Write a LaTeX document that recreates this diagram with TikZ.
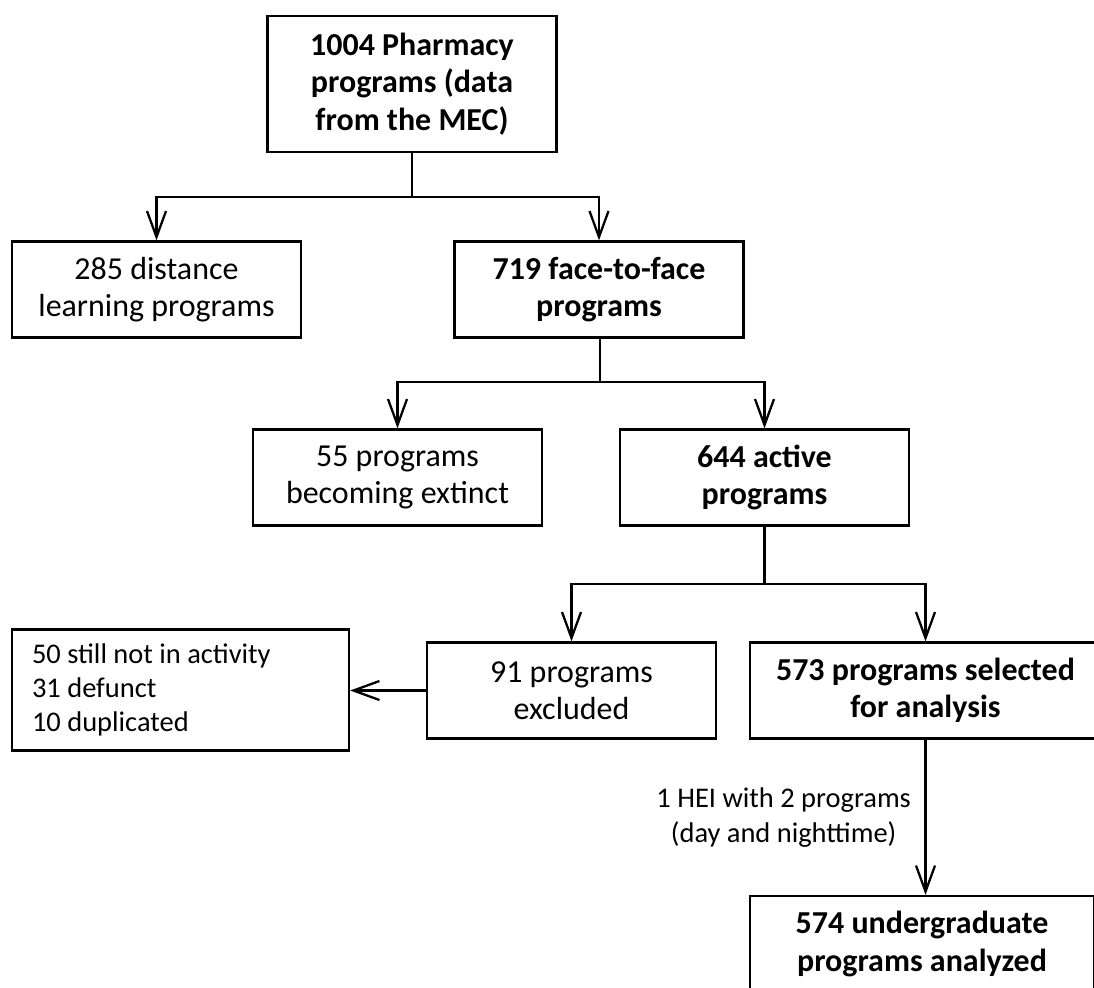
\documentclass[tikz,border=0pt]{standalone}
\usepackage{fontspec}
\setmainfont{Carlito}
\usetikzlibrary{arrows.meta, positioning, calc}

\begin{document}
\begin{tikzpicture}[
  x=0.02cm, y=-0.02cm,
  stage/.style={rectangle, draw, line width=1.3pt, minimum width=5.78cm, minimum height=1.92cm, align=center, font=\fontsize{18.2}{21.3}\selectfont},
  strong/.style={font=\fontsize{18.2}{21.3}\selectfont\bfseries},
  arrow/.style={-{Straight Barb[length=0.52cm, width=0.38cm]}, line width=1.3pt},
  link/.style={line width=1.3pt}
]
  \clip (0,0) rectangle (1094,987);

  \node[stage, strong, minimum height=2.72cm] (all) at (412,84) {1004 Pharmacy\\programs (data\\from the MEC)};

  \node[stage] (distance) at (156.5,289.5) {285 distance\\learning programs};
  \node[stage, strong] (face) at (599,289.5) {719 face-to-face\\programs};

  \node[stage] (extinct) at (397.5,477.5) {55 programs\\becoming extinct};
  \node[stage, strong] (active) at (764.5,477.5) {644 active\\programs};

  \node[stage] (excluded) at (571.5,690.5) {91 programs\\excluded};
  \node[stage, strong, minimum width=7.02cm] (selected) at (925.5,690.5) {573 programs selected\\for analysis};

  \node[draw, line width=1.3pt, text width=5.94cm, inner xsep=0.4cm, minimum height=2.42cm, align=flush left, font=\fontsize{16.2}{19.4}\selectfont] (reasons) at (180.5,690) {50 still not in activity\\31 defunct\\10 duplicated};

  \node[stage, strong, minimum width=6.88cm] (analyzed) at (922,944) {574 undergraduate\\programs analyzed};

  \coordinate (j1) at (412,197);
  \coordinate (j2) at (600,382);
  \coordinate (j3) at (764.5,584);

  \draw[link] (all) -- (j1);
  \draw[arrow] (j1) -| (distance);
  \draw[arrow] (j1) -| (face);

  \draw[link] (face.south -| j2) -- (j2);
  \draw[arrow] (j2) -| (extinct);
  \draw[arrow] (j2) -| (active);

  \draw[link] (active) -- (j3);
  \draw[arrow] (j3) -| (excluded);
  \draw[arrow] (j3) -| (selected);

  \draw[arrow] (excluded.west) -- (excluded.west -| reasons.east);

  \draw[arrow] (selected.south) -- (selected.south |- analyzed.north)
    node[midway, left=0.27cm, inner sep=0pt, align=center, font=\fontsize{16.2}{19.8}\selectfont] (hei) {1 HEI with 2 programs\\(day and nighttime)};
\end{tikzpicture}
\end{document}
